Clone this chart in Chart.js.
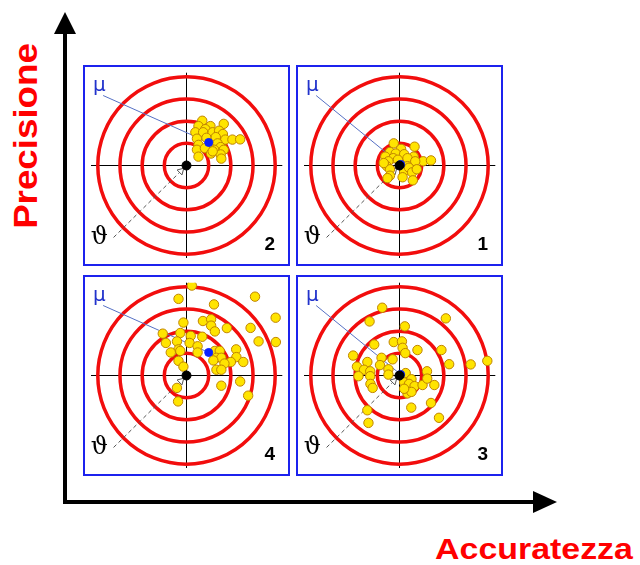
<!DOCTYPE html>
<html>
<head>
<meta charset="utf-8">
<script src="https://cdn.jsdelivr.net/npm/chart.js@4.4.0/dist/chart.umd.min.js"></script>
<style>
  body { margin: 0; background: #fff; }
  #page { position: relative; width: 640px; height: 565px; overflow: hidden; font-family: "Liberation Sans", Arial, sans-serif; }
  .box { position: absolute; width: 207px; height: 201px; border: 2px solid #1c22ee; box-sizing: border-box; background: #fff; }
  .box canvas { display: block; }
  .vline { position: absolute; left: 63px; top: 30px; width: 4px; height: 474px; background: #000; }
  .hline { position: absolute; left: 63px; top: 500px; width: 474px; height: 4px; background: #000; }
  .uphead { position: absolute; left: 54px; top: 12px; width: 0; height: 0;
    border-left: 11px solid transparent; border-right: 11px solid transparent; border-bottom: 22px solid #000; }
  .righthead { position: absolute; left: 533px; top: 491px; width: 0; height: 0;
    border-top: 11px solid transparent; border-bottom: 11px solid transparent; border-left: 24px solid #000; }
  .ylab { position: absolute; left: 25px; top: 136px; color: #ff0000; font-weight: bold; font-size: 34px; line-height: 1;
    white-space: nowrap; transform: translate(-50%, -50%) rotate(-90deg) scaleX(1.08); }
  .xlab { position: absolute; left: 534px; top: 549px; color: #ff0000; font-weight: bold; font-size: 30px; line-height: 1;
    white-space: nowrap; transform: translate(-50%, -50%) scaleX(1.13); }
</style>
</head>
<body>
<div id="page">
  <div class="vline"></div>
  <div class="uphead"></div>
  <div class="hline"></div>
  <div class="righthead"></div>
  <div class="ylab">Precisione</div>
  <div class="xlab">Accuratezza</div>
  <div class="box" style="left:83px;top:65px"><canvas id="p2" width="203" height="197"></canvas></div>
  <div class="box" style="left:296px;top:65px"><canvas id="p1" width="203" height="197"></canvas></div>
  <div class="box" style="left:83px;top:275px"><canvas id="p4" width="203" height="197"></canvas></div>
  <div class="box" style="left:296px;top:275px"><canvas id="p3" width="203" height="197"></canvas></div>
</div>
<script>
// bersaglio: raggi dei cerchi
const ringRadii = [1, 2, 3, 4];

// colpi per ogni bersaglio [x, y]
const shots1 = [[-0.26,1.00],[0.68,0.85],[0.07,0.75],[-0.43,0.61],[-0.17,0.54],[0.21,0.51],[-0.64,0.40],
  [-0.28,0.33],[0.64,0.40],[0.36,0.33],[-0.50,0.19],[1.07,0.19],[1.42,0.23],[0.71,0.19],[-0.57,-0.03],
  [-0.43,-0.17],[0.36,-0.03],[0.21,-0.28],[0.43,-0.10],[0.57,-0.31],[0.78,-0.17],[-0.43,-0.46],
  [0.14,-0.53],[0.60,-0.67],[-0.54,-0.57],[-0.71,0.11],[-0.07,0.26]];
const shots2 = [[0.71,2.02],[1.68,1.88],[0.54,1.78],[1.08,1.78],[0.85,1.64],[0.40,1.50],[0.75,1.50],
  [1.18,1.50],[1.47,1.57],[1.64,1.42],[0.47,1.21],[0.90,1.25],[1.32,1.28],[1.75,1.17],[2.07,1.17],
  [2.42,1.18],[0.54,0.93],[1.04,0.88],[1.40,1.00],[1.54,0.83],[0.47,0.71],[0.83,0.78],[1.25,0.71],
  [1.68,0.71],[1.11,0.54],[1.54,0.50],[0.54,0.40],[1.57,0.31],[1.18,0.64]];
const shots3 = [[-0.78,3.06],[2.09,2.58],[-1.35,2.44],[0.24,2.22],[-1.14,1.40],[-0.26,1.51],[0.11,1.54],
  [0.14,1.25],[0.26,1.01],[0.81,1.15],[1.89,1.15],[-2.09,0.90],[-1.45,0.61],[-0.81,0.80],[-0.31,0.73],
  [2.24,0.51],[3.21,0.50],[3.96,0.66],[-1.92,0.40],[-1.60,0.26],[-1.32,0.19],[-0.88,0.47],[-0.50,0.28],
  [-1.85,-0.03],[-1.32,-0.03],[-0.50,0.04],[0.28,0.11],[1.24,0.19],[-1.31,-0.38],[-1.21,-0.56],
  [0.21,-0.31],[0.54,-0.17],[0.43,-0.38],[0.68,-0.48],[1.04,-0.43],[1.25,-0.14],[1.57,-0.43],
  [0.36,-0.81],[0.54,-0.74],[0.21,-0.60],[1.42,-1.24],[0.53,-1.45],[-1.45,-1.57],[1.78,-1.91],[-1.40,-2.14]];
const shots4 = [[0.24,4.06],[3.09,3.56],[-0.36,3.46],[1.24,3.21],[4.02,2.61],[0.74,2.46],[1.11,2.54],
  [-0.14,2.39],[1.11,2.25],[1.82,2.14],[2.89,2.15],[1.28,1.99],[-1.07,1.89],[-0.28,1.92],[0.19,1.79],
  [0.71,1.75],[3.25,1.54],[4.03,1.51],[-0.93,1.47],[-0.43,1.54],[0.14,1.47],[0.50,1.32],[-0.36,1.18],
  [-0.71,1.04],[1.28,1.11],[1.50,1.11],[2.24,1.18],[-0.28,1.11],[0.50,1.04],[1.35,0.80],[1.57,0.80],
  [2.25,0.83],[2.56,0.61],[2.00,0.61],[1.21,0.68],[1.71,0.54],[-0.36,0.66],[-0.14,0.40],[1.35,0.26],
  [1.57,0.26],[2.42,-0.27],[1.57,-0.46],[-0.43,-0.56],[2.78,-0.91],[-0.38,-1.17]];

// media (mu) di ogni bersaglio
const means = { p1: [0.05, 0.05], p2: [1.00, 1.04], p3: [0.05, 0.05], p4: [1.00, 1.04] };
const panelNumbers = { p1: '1', p2: '2', p3: '3', p4: '4' };

const muStart = [-3.76, 3.16];
const thetaStart = [-3.29, -3.25];
const thetaEnd = [-0.25, -0.25];

const toXY = arr => arr.map(p => ({ x: p[0], y: p[1] }));

const targetPlugin = {
  id: 'target',
  beforeDatasetsDraw(chart) {
    const { ctx, scales: { x, y } } = chart;
    const cx = x.getPixelForValue(0), cy = y.getPixelForValue(0);
    ctx.save();
    ctx.strokeStyle = '#f20d0d';
    ctx.lineWidth = 3.5;
    ringRadii.forEach(r => {
      const rad = x.getPixelForValue(r) - cx;
      ctx.beginPath();
      ctx.arc(cx, cy, rad, 0, Math.PI * 2);
      ctx.stroke();
    });
    ctx.restore();
  },
  afterDatasetsDraw(chart, args, opts) {
    const { ctx, scales: { x, y } } = chart;
    ctx.save();
    ctx.textAlign = 'center';
    ctx.textBaseline = 'middle';
    ctx.fillStyle = '#2233cc';
    ctx.font = '20px "DejaVu Sans", sans-serif';
    ctx.fillText('μ', x.getPixelForValue(-3.93), y.getPixelForValue(3.6));
    ctx.fillStyle = '#000';
    ctx.font = '24px "DejaVu Serif", serif';
    ctx.fillText('ϑ', x.getPixelForValue(-3.93), y.getPixelForValue(-3.25));
    ctx.font = 'bold 19px "Liberation Sans", Arial, sans-serif';
    ctx.fillText(opts.label, x.getPixelForValue(3.75), y.getPixelForValue(-3.58));
    ctx.restore();
  }
};

function drawTarget(id, shots) {
  const m = means[id];
  new Chart(document.getElementById(id), {
    type: 'scatter',
    data: {
      datasets: [
        {
          type: 'line', data: toXY([muStart, m]), borderColor: '#5670c4', borderWidth: 1,
          pointRadius: 0, order: 10
        },
        {
          type: 'line', data: toXY([thetaStart, thetaEnd]), borderColor: '#555', borderWidth: 1,
          borderDash: [4, 3], pointRadius: [0, 4], pointStyle: 'triangle', rotation: 45,
          pointBackgroundColor: '#fff', pointBorderColor: '#555', order: 9
        },
        {
          data: toXY(shots), backgroundColor: '#ffe400', borderColor: '#c08400', borderWidth: 1,
          pointRadius: 4.7, order: 3
        },
        { data: toXY([m]), backgroundColor: '#0a22ff', borderColor: '#0a22ff', pointRadius: 4, order: 2 },
        { data: toXY([[0, 0]]), backgroundColor: '#000', borderColor: '#000', pointRadius: 4.5, order: 1 }
      ]
    },
    options: {
      responsive: false,
      animation: false,
      layout: { padding: 0 },
      plugins: { legend: { display: false }, tooltip: { enabled: false }, target: { label: panelNumbers[id] } },
      scales: {
        x: {
          min: -4.32, max: 4.32,
          afterBuildTicks: axis => { axis.ticks = [{ value: 0 }]; },
          ticks: { display: false },
          grid: { color: '#000', lineWidth: 1, drawTicks: false },
          border: { display: false }
        },
        y: {
          min: -4.19, max: 4.19,
          afterBuildTicks: axis => { axis.ticks = [{ value: 0 }]; },
          ticks: { display: false },
          grid: { color: '#000', lineWidth: 1, drawTicks: false },
          border: { display: false }
        }
      }
    },
    plugins: [targetPlugin]
  });
}

drawTarget('p1', shots1);
drawTarget('p2', shots2);
drawTarget('p3', shots3);
drawTarget('p4', shots4);
</script>
</body>
</html>
